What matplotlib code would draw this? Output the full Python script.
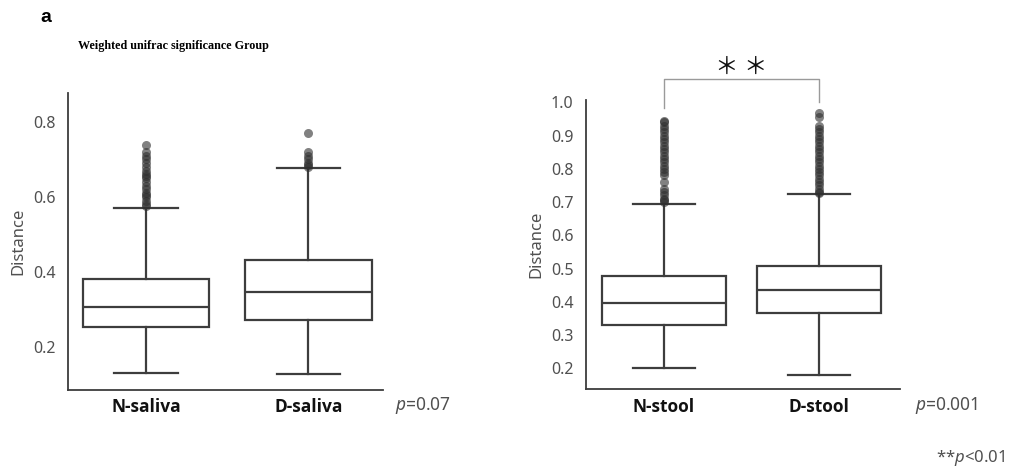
"""
Weighted unifrac distance boxplots: saliva vs stool groups (N vs D).
Box stats are read off the published figure and drawn with ax.bxp.
"""
import numpy as np
import matplotlib
matplotlib.use("Agg")
import matplotlib.pyplot as plt

# --- DATA ---
saliva_groups = ["N-saliva", "D-saliva"]
saliva_whislo = [0.131, 0.128]
saliva_q1     = [0.253, 0.272]
saliva_med    = [0.306, 0.345]
saliva_q3     = [0.380, 0.432]
saliva_whishi = [0.571, 0.677]
saliva_fliers = [
    [0.575, 0.58, 0.59, 0.60, 0.605, 0.61, 0.62, 0.63, 0.64, 0.65, 0.655,
     0.66, 0.67, 0.68, 0.69, 0.70, 0.71, 0.72, 0.739],
    [0.68, 0.685, 0.69, 0.70, 0.71, 0.72, 0.771],
]
saliva_p = "0.07"

stool_groups = ["N-stool", "D-stool"]
stool_whislo = [0.200, 0.180]
stool_q1     = [0.330, 0.367]
stool_med    = [0.397, 0.437]
stool_q3     = [0.477, 0.508]
stool_whishi = [0.694, 0.724]
stool_fliers = [
    [0.70, 0.705, 0.71, 0.72, 0.73, 0.74, 0.76, 0.78, 0.79, 0.80, 0.81,
     0.82, 0.83, 0.84, 0.85, 0.86, 0.87, 0.88, 0.89, 0.90, 0.91, 0.92,
     0.93, 0.94, 0.945],
    [0.726, 0.73, 0.74, 0.75, 0.76, 0.77, 0.78, 0.79, 0.80, 0.81, 0.82,
     0.83, 0.84, 0.85, 0.86, 0.87, 0.88, 0.89, 0.90, 0.91, 0.92, 0.93,
     0.955, 0.967],
]
stool_p = "0.001"
stool_sig = "＊ ＊"

# --- STYLE ---
LINE_C = "#3d3d3d"
TEXT_C = "#505050"
plt.rcParams["font.family"] = ["Noto Sans", "DejaVu Sans"]
plt.rcParams["mathtext.fontset"] = "custom"
plt.rcParams["mathtext.rm"] = "Noto Sans"
plt.rcParams["mathtext.it"] = "Noto Sans:italic"


def make_stats(whislo, q1, med, q3, whishi, fliers):
    return [dict(whislo=a, q1=b, med=c, q3=d, whishi=e, fliers=np.array(f))
            for a, b, c, d, e, f in zip(whislo, q1, med, q3, whishi, fliers)]


def draw_panel(ax, stats, labels, width):
    line = dict(color=LINE_C, linewidth=1.6)
    ax.bxp(stats, positions=[0, 1], widths=width, patch_artist=True,
           boxprops=dict(facecolor="white", edgecolor=LINE_C, linewidth=1.6),
           whiskerprops=line, capprops=line, medianprops=line,
           flierprops=dict(marker="o", markersize=6.5, markerfacecolor="#2e2e2e",
                           markeredgecolor="none", alpha=0.6))
    ax.set_xticks([0, 1])
    ax.set_xticklabels(labels, fontsize=12.5, fontweight="bold", color="#111111",
                       family="Open Sans")
    ax.tick_params(axis="x", length=0, pad=6)
    ax.tick_params(axis="y", length=0, pad=9, labelsize=11.5, labelcolor=TEXT_C)
    ax.set_ylabel("Distance", fontsize=12, color=TEXT_C, labelpad=5)
    for side in ["top", "right"]:
        ax.spines[side].set_visible(False)
    for side in ["left", "bottom"]:
        ax.spines[side].set_color(LINE_C)
        ax.spines[side].set_linewidth(1.3)


def main():
    fig = plt.figure(figsize=(10.11, 4.68), dpi=100)

    # left panel: saliva
    ax1 = fig.add_axes([0.0673, 0.1667, 0.3115, 0.6346])
    draw_panel(ax1, make_stats(saliva_whislo, saliva_q1, saliva_med, saliva_q3,
                               saliva_whishi, saliva_fliers), saliva_groups, 0.78)
    ax1.set_xlim(-0.48, 1.46)
    ax1.set_ylim(0.085, 0.877)
    ax1.set_yticks([0.2, 0.4, 0.6, 0.8])

    # right panel: stool
    ax2 = fig.add_axes([0.5796, 0.1682, 0.3106, 0.6181])
    draw_panel(ax2, make_stats(stool_whislo, stool_q1, stool_med, stool_q3,
                               stool_whishi, stool_fliers), stool_groups, 0.8)
    ax2.set_xlim(-0.50, 1.52)
    ax2.set_ylim(0.137, 1.007)
    ax2.set_yticks(np.arange(0.2, 1.01, 0.1))
    ax2.set_yticklabels([f"{v:.1f}" for v in np.arange(0.2, 1.01, 0.1)])

    # significance bracket above the stool panel
    ax2.plot([0, 0, 1, 1], [0.983, 1.07, 1.07, 1.002], color="#9a9a9a",
             lw=1.0, clip_on=False)
    ax2.text(0.5, 1.106, stool_sig, ha="center", va="center", fontsize=17,
             family=["Noto Sans CJK JP", "DejaVu Sans"], color="#111111",
             clip_on=False)

    # headings and p-values
    fig.text(40 / 1011, 1 - 18 / 468, "a", fontsize=14, fontweight="bold",
             family="Liberation Sans", va="center", ha="left")
    fig.text(78 / 1011, 1 - 46 / 468, "Weighted unifrac significance Group",
             fontsize=8.7, fontweight="bold", family="Liberation Serif",
             va="center", ha="left")
    fig.text(395 / 1011, 1 - 405 / 468, f"$p$={saliva_p}", fontsize=12.5,
             color=TEXT_C, va="center", ha="left")
    fig.text(915 / 1011, 1 - 405 / 468, f"$p$={stool_p}", fontsize=12.5,
             color=TEXT_C, va="center", ha="left")
    fig.text(936 / 1011, 1 - 458 / 468, "**$p$<0.01", fontsize=12,
             color=TEXT_C, va="center", ha="left")

    fig.savefig("out.png", dpi=100)


if __name__ == "__main__":
    main()
